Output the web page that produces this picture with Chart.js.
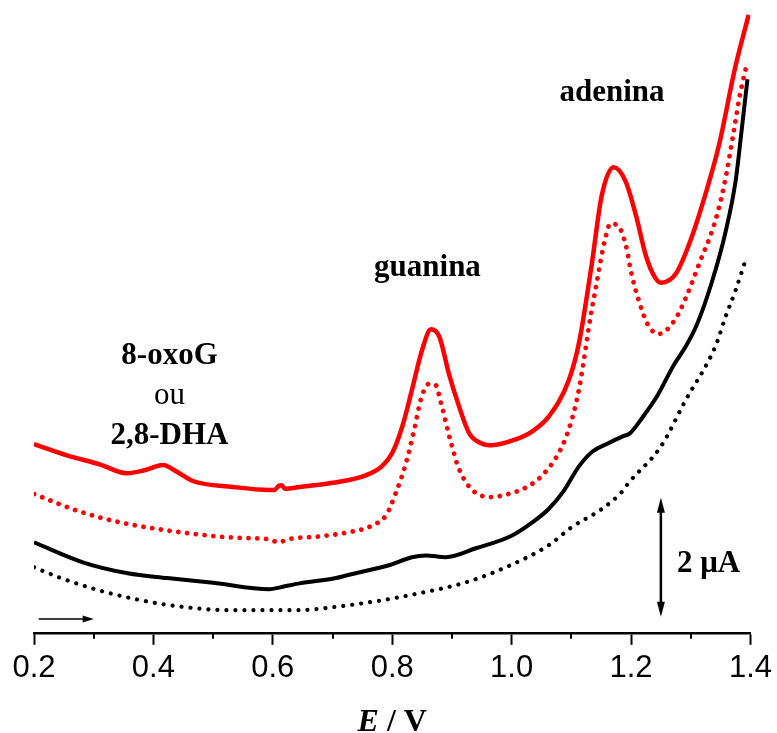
<!DOCTYPE html>
<html>
<head>
<meta charset="utf-8">
<script src="https://cdn.jsdelivr.net/npm/chart.js@4.4.0/dist/chart.umd.min.js"></script>
<style>
  html, body { margin: 0; padding: 0; background: #fff; }
  #wrap { width: 777px; height: 733px; }
</style>
</head>
<body>
<div id="wrap"><canvas id="myChart"></canvas></div>
<script>
// E in V, current in uA (curves offset, 0 = bottom axis)
const redSolidE = [0.20,0.255,0.31,0.355,0.385,0.416,0.44,0.466,0.533,0.594,0.603,0.61,0.615,0.62,0.645,0.70,0.757,0.783,0.80,0.817,0.833,0.85,0.865,0.879,0.895,0.912,0.929,0.95,0.967,1.007,1.034,1.062,1.096,1.113,1.134,1.151,1.171,1.191,1.208,1.225,1.24,1.25,1.275,1.301,1.325,1.347,1.375,1.397];
const redSolidI = [3.17,2.98,2.83,2.68,2.73,2.82,2.70,2.55,2.45,2.40,2.40,2.47,2.48,2.42,2.45,2.52,2.65,2.80,3.02,3.47,4.08,4.75,5.10,4.97,4.35,3.80,3.35,3.18,3.15,3.25,3.38,3.63,4.25,4.88,6.18,7.35,7.82,7.58,7.02,6.33,5.97,5.88,6.03,6.63,7.38,8.18,9.52,10.38];

const redDotE = [0.20,0.273,0.333,0.423,0.533,0.594,0.61,0.625,0.678,0.722,0.766,0.79,0.806,0.823,0.837,0.848,0.861,0.872,0.882,0.897,0.910,0.932,0.964,0.994,1.022,1.052,1.082,1.099,1.113,1.134,1.142,1.149,1.157,1.165,1.177,1.191,1.201,1.213,1.228,1.246,1.273,1.294,1.316,1.339,1.356,1.372,1.382,1.392];
const redDotI = [2.33,2.05,1.88,1.72,1.60,1.57,1.52,1.57,1.62,1.68,1.80,1.98,2.35,2.85,3.42,3.92,4.18,4.17,3.85,3.25,2.80,2.42,2.28,2.33,2.43,2.65,3.08,3.52,4.10,5.42,5.85,6.25,6.63,6.87,6.85,6.52,6.02,5.58,5.18,5.02,5.25,5.68,6.25,6.85,7.52,8.42,9.02,9.47];

const blackSolidE = [0.20,0.283,0.357,0.423,0.50,0.594,0.615,0.645,0.706,0.726,0.773,0.793,0.833,0.856,0.890,0.940,1.000,1.034,1.062,1.087,1.113,1.136,1.161,1.186,1.198,1.220,1.245,1.270,1.291,1.310,1.335,1.358,1.375,1.385,1.395];
const blackSolidI = [1.52,1.18,1.00,0.92,0.84,0.73,0.77,0.83,0.92,0.97,1.08,1.13,1.27,1.30,1.27,1.42,1.63,1.85,2.08,2.38,2.80,3.05,3.18,3.30,3.35,3.63,4.00,4.47,4.80,5.17,5.88,6.72,7.58,8.42,9.30];

const blackDotE = [0.20,0.245,0.290,0.333,0.423,0.533,0.645,0.700,0.773,0.828,0.924,0.990,1.062,1.100,1.151,1.183,1.196,1.25,1.29,1.342,1.358,1.375,1.393];
const blackDotI = [1.10,0.92,0.77,0.65,0.47,0.38,0.38,0.43,0.53,0.63,0.85,1.10,1.47,1.77,2.08,2.35,2.52,3.13,3.88,4.83,5.30,5.75,6.30];

const minorTicks = [0.3,0.5,0.7,0.9,1.1,1.3];

// peak labels
const noteText   = ['adenina','guanina','8-oxoG','ou','2,8-DHA','2 \u03bcA'];
const noteE      = [1.168, 0.859, 0.427, 0.427, 0.427, 1.277];
const noteI      = [8.93, 6.00, 4.52, 3.85, 3.17, 1.02];
const noteWeight = ['bold','bold','bold','normal','bold','bold'];
const noteAlign  = ['center','center','center','center','center','left'];

// 2 uA scale bar and scan direction arrow
const scaleBarE = 1.25, scaleBarI = [0.27, 2.27];
const scanArrowE = [0.208, 0.30], scanArrowI = 0.23;

const pts = (xs, ys) => xs.map((x, k) => ({x: x, y: ys[k]}));

function arrowHead(ctx, x, y, dx, dy, len, half) {
  ctx.beginPath();
  ctx.moveTo(x, y);
  ctx.lineTo(x - dx * len - dy * half, y - dy * len + dx * half);
  ctx.lineTo(x - dx * len + dy * half, y - dy * len - dx * half);
  ctx.closePath();
  ctx.fill();
}

const extras = {
  id: 'extras',
  afterDraw(chart) {
    const ctx = chart.ctx, xs = chart.scales.x, ys = chart.scales.y;
    const area = chart.chartArea;
    ctx.save();
    ctx.fillStyle = '#000';
    ctx.strokeStyle = '#000';

    // minor ticks
    ctx.lineWidth = 2;
    minorTicks.forEach(v => {
      const px = Math.round(xs.getPixelForValue(v));
      ctx.beginPath();
      ctx.moveTo(px, area.bottom);
      ctx.lineTo(px, area.bottom + 6);
      ctx.stroke();
    });

    // labels
    ctx.textBaseline = 'alphabetic';
    noteText.forEach((t, k) => {
      ctx.font = noteWeight[k] + ' 31px "Liberation Serif", "Times New Roman", serif';
      ctx.textAlign = noteAlign[k];
      ctx.fillText(t, xs.getPixelForValue(noteE[k]), ys.getPixelForValue(noteI[k]));
    });

    // scale bar
    const bx = xs.getPixelForValue(scaleBarE);
    const by0 = ys.getPixelForValue(scaleBarI[0]);
    const by1 = ys.getPixelForValue(scaleBarI[1]);
    ctx.lineWidth = 2.5;
    ctx.beginPath();
    ctx.moveTo(bx, by0 - 10);
    ctx.lineTo(bx, by1 + 10);
    ctx.stroke();
    arrowHead(ctx, bx, by0, 0, 1, 15, 4);
    arrowHead(ctx, bx, by1, 0, -1, 15, 4);

    // scan direction
    const ax0 = xs.getPixelForValue(scanArrowE[0]);
    const ax1 = xs.getPixelForValue(scanArrowE[1]);
    const ay = ys.getPixelForValue(scanArrowI);
    ctx.lineWidth = 1.5;
    ctx.beginPath();
    ctx.moveTo(ax0, ay);
    ctx.lineTo(ax1 - 8, ay);
    ctx.stroke();
    arrowHead(ctx, ax1, ay, 1, 0, 11, 3.5);

    // axis title: E / V
    const f1 = 'italic bold 32px "Liberation Serif", serif';
    const f2 = 'bold 32px "Liberation Serif", serif';
    ctx.font = f1; const w1 = ctx.measureText('E').width;
    ctx.font = f2; const w2 = ctx.measureText(' / V').width;
    const cx = (area.left + area.right) / 2;
    const x0 = cx - (w1 + w2) / 2;
    ctx.textAlign = 'left';
    ctx.font = f1; ctx.fillText('E', x0, 731);
    ctx.font = f2; ctx.fillText(' / V', x0 + w1, 731);
    ctx.restore();
  }
};

const lineStyle = {
  fill: false,
  pointRadius: 0,
  cubicInterpolationMode: 'monotone'
};

const ctx = document.getElementById('myChart').getContext('2d');
const myChart = new Chart(ctx, {
  type: 'line',
  data: {
    datasets: [
      Object.assign({ label: 'black dotted', data: pts(blackDotE, blackDotI),
        borderColor: '#000', borderWidth: 4.2, borderDash: [0.01, 9], borderCapStyle: 'round' }, lineStyle),
      Object.assign({ label: 'black', data: pts(blackSolidE, blackSolidI),
        borderColor: '#000', borderWidth: 4 }, lineStyle),
      Object.assign({ label: 'red dotted', data: pts(redDotE, redDotI),
        borderColor: '#ff0000', borderWidth: 4.8, borderDash: [0.01, 8.8], borderCapStyle: 'round' }, lineStyle),
      Object.assign({ label: 'red', data: pts(redSolidE, redSolidI),
        borderColor: '#ff0000', borderWidth: 4.5 }, lineStyle)
    ]
  },
  options: {
    responsive: true,
    maintainAspectRatio: false,
    animation: false,
    devicePixelRatio: 1,
    layout: { padding: { left: 34, right: 25, top: 0, bottom: 41 } },
    plugins: { legend: { display: false }, tooltip: { enabled: false } },
    scales: {
      x: {
        type: 'linear',
        min: 0.2,
        max: 1.4,
        border: { display: true, color: '#000', width: 2.5 },
        grid: { display: true, drawOnChartArea: false, drawTicks: true, tickLength: 12, tickColor: '#000', tickWidth: 2 },
        ticks: {
          stepSize: 0.2,
          padding: 5,
          color: '#000',
          font: { family: '"Liberation Sans", Arial, sans-serif', size: 31 },
          maxRotation: 0,
          callback: v => v.toFixed(1)
        }
      },
      y: {
        display: false,
        min: 0,
        max: 10.63
      }
    }
  },
  plugins: [extras]
});
</script>
</body>
</html>
